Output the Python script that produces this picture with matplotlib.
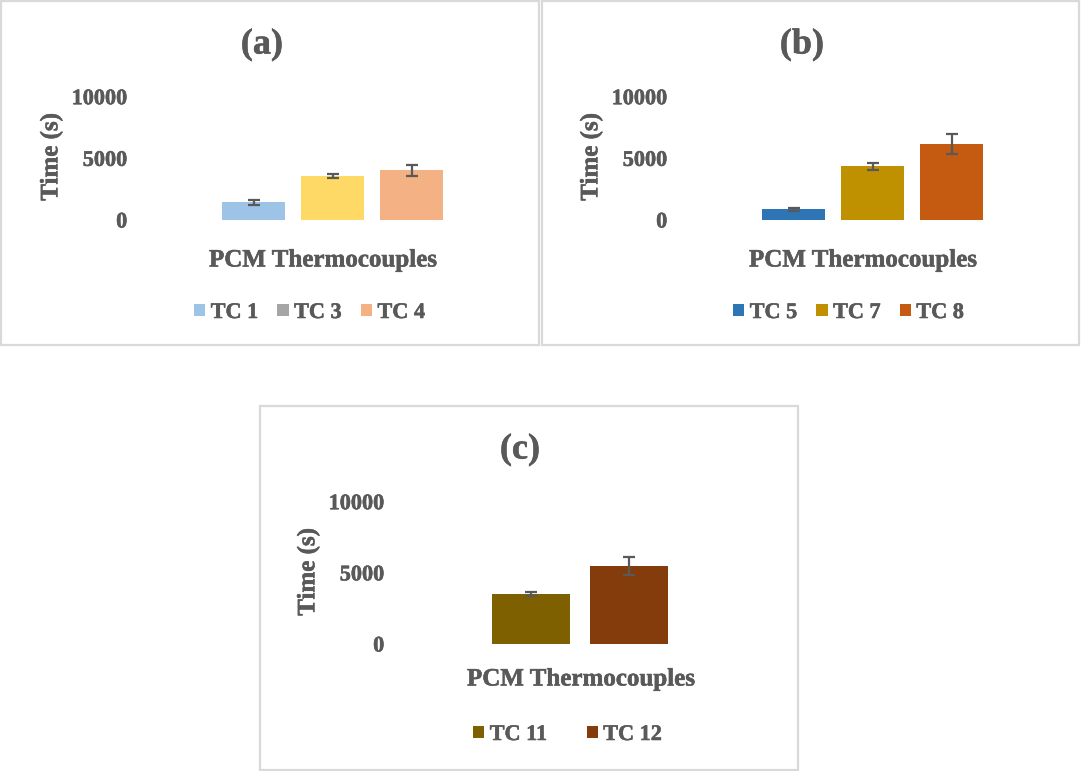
import matplotlib
matplotlib.use("Agg")
import matplotlib.pyplot as plt
import matplotlib.patheffects as pe
from matplotlib.patches import Patch, Rectangle

# data (time in seconds, mean and error half-width)
names_a = ["TC 1", "TC 3", "TC 4"]
times_a = [1450, 3560, 4020]
errs_a = [210, 180, 420]
colors_a = ["#9DC3E6", "#FFD966", "#F4B183"]
legend_colors_a = ["#9DC3E6", "#A5A5A5", "#F4B183"]

names_b = ["TC 5", "TC 7", "TC 8"]
times_b = [860, 4360, 6170]
errs_b = [120, 270, 800]
colors_b = ["#2E75B6", "#BF9000", "#C55A11"]

names_c = ["TC 11", "TC 12"]
times_c = [3500, 5480]
errs_c = [140, 620]
colors_c = ["#7F6000", "#843C0C"]

y_ticks = [0, 5000, 10000]
x_label = "PCM Thermocouples"
y_label = "Time (s)"

W, H = 1081, 771
TXT = "#595959"
plt.rcParams["font.family"] = ["Liberation Serif", "DejaVu Serif"]
plt.rcParams["font.weight"] = "bold"
thick = [pe.withStroke(linewidth=0.4, foreground=TXT)]

fig = plt.figure(figsize=(W / 100, H / 100), dpi=100)


def fx(px):
    return px / W


def fy(py):
    return 1 - py / H


def panel(box, axbox, c0, pitch, names, times, errs, colors, leg_colors,
          title, title_xy, xlab_xy, ylab_xy, leg_xy, colspace):
    x0, y0, x1, y1 = box
    fig.patches.append(Rectangle((fx(x0), fy(y1)), fx(x1) - fx(x0), fy(y0) - fy(y1),
                                 transform=fig.transFigure, fill=False,
                                 edgecolor="#D9D9D9", linewidth=1.6))
    L, T, R, B = axbox
    ax = fig.add_axes([fx(L), fy(B), fx(R) - fx(L), fy(T) - fy(B)])
    pos = list(range(len(names)))
    ax.bar(pos, times, width=0.797, color=colors, zorder=2)
    ax.errorbar(pos, times, yerr=errs, fmt="none", ecolor="#595959",
                elinewidth=1.6, capsize=4.3, capthick=1.6, zorder=3)
    ax.set_xlim((L - c0) / pitch, (R - c0) / pitch)
    ax.set_ylim(0, 10000)
    ax.set_yticks(y_ticks)
    ax.set_yticklabels([str(t) for t in y_ticks], fontsize=16,
                       fontweight="bold", color=TXT, path_effects=thick)
    ax.tick_params(axis="y", length=0, pad=7)
    ax.set_xticks([])
    for s in ax.spines.values():
        s.set_visible(False)
    ax.patch.set_alpha(0)

    fig.text(fx(title_xy[0]), fy(title_xy[1]), title, fontsize=26,
             fontweight="bold", color=TXT, ha="center", va="center",
             path_effects=thick)
    fig.text(fx(xlab_xy[0]), fy(xlab_xy[1]), x_label, fontsize=18,
             fontweight="bold", color=TXT, ha="center", va="center",
             path_effects=thick)
    fig.text(fx(ylab_xy[0]), fy(ylab_xy[1]), y_label, fontsize=18,
             fontweight="bold", color=TXT, ha="center", va="center",
             rotation=90, path_effects=thick)

    handles = [Patch(facecolor=c, edgecolor="none", label=n)
               for n, c in zip(names, leg_colors)]
    leg = fig.legend(handles=handles, loc="center", ncol=len(names), frameon=False,
                     bbox_to_anchor=(fx(leg_xy[0]), fy(leg_xy[1])),
                     prop={"size": 16, "weight": "bold"}, labelcolor=TXT,
                     handlelength=0.5, handleheight=0.5, handletextpad=0.25,
                     columnspacing=colspace, borderaxespad=0, borderpad=0)
    for t in leg.get_texts():
        t.set_path_effects(thick)


panel((1, 1, 539, 345.5), (137, 96.7, 515, 220), 253.5, 79,
      names_a, times_a, errs_a, colors_a, legend_colors_a,
      "(a)", (262, 45), (323, 260), (51, 157), (309.5, 313), 0.86)

panel((541.5, 1, 1079, 345.5), (677, 96.7, 1055, 220), 793.5, 79,
      names_b, times_b, errs_b, colors_b, colors_b,
      "(b)", (802, 45), (863, 260), (591, 157), (848.5, 313), 0.86)

panel((259.5, 406, 798, 769.5), (394, 501.7, 770, 644), 531, 97.7,
      names_c, times_c, errs_c, colors_c, colors_c,
      "(c)", (520, 450), (581, 679), (308, 572), (567.5, 735), 1.77)

fig.savefig("out.png", dpi=100)
